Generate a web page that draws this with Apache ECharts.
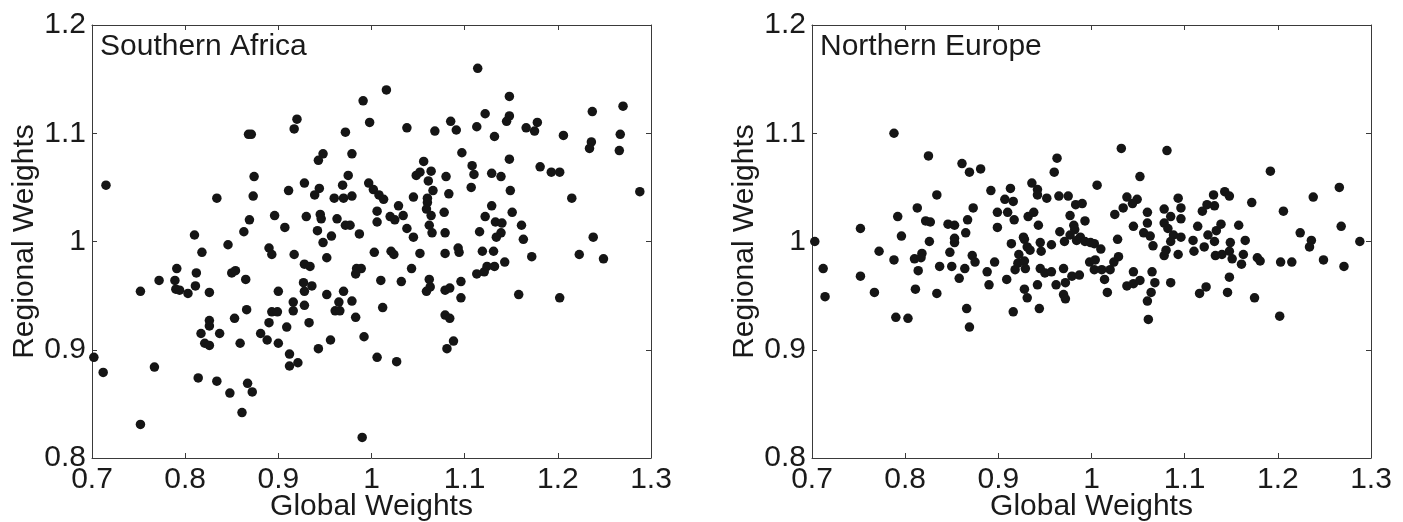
<!DOCTYPE html>
<html>
<head>
<meta charset="utf-8">
<script src="https://cdn.jsdelivr.net/npm/echarts@6/dist/echarts.min.js"></script>
<style>
html,body{margin:0;padding:0;background:#fff;}
#c{width:1403px;height:522px;}
</style>
</head>
<body>
<div id="c"></div>
<script>
const xTickLabels = ['0.7','0.8','0.9','1','1.1','1.2','1.3'];
const yTickLabels = ['0.8','0.9','1','1.1','1.2'];
const panelTitles = ['Southern Africa','Northern Europe'];
const xName = 'Global Weights';
const yName = 'Regional Weights';

const southernAfrica = [
[0.715,1.052],[1.016,1.140],[0.991,1.130],[0.998,1.110],[0.920,1.113],[0.917,1.104],[0.868,1.099],[0.871,1.099],
[0.972,1.101],[0.948,1.081],[0.943,1.075],[0.979,1.081],[0.874,1.060],[0.975,1.061],[0.928,1.054],[0.944,1.049],
[0.939,1.043],[0.911,1.047],[0.873,1.042],[0.834,1.040],[0.969,1.052],[0.960,1.040],[0.970,1.040],[0.979,1.042],
[0.997,1.054],[1.002,1.048],[1.008,1.043],[1.013,1.039],[1.006,1.028],[1.006,1.018],[0.896,1.024],[0.869,1.020],
[0.907,1.013],[0.930,1.023],[0.945,1.025],[0.946,1.021],[0.963,1.021],[0.972,1.015],[0.977,1.015],[0.987,1.007],
[0.942,1.010],[0.957,1.005],[0.863,1.009],[0.810,1.006],
[1.114,1.160],[1.148,1.134],[1.122,1.118],[1.148,1.116],[1.145,1.111],[1.085,1.111],[1.091,1.103],[1.113,1.106],
[1.132,1.097],[1.166,1.105],[1.178,1.110],[1.175,1.102],[1.206,1.098],[1.237,1.120],[1.270,1.125],[1.267,1.099],
[1.236,1.092],[1.234,1.086],[1.266,1.084],[1.038,1.105],[1.068,1.102],[1.097,1.082],[1.148,1.076],[1.056,1.074],
[1.048,1.061],[1.052,1.064],[1.064,1.065],[1.061,1.056],[1.080,1.060],[1.108,1.070],[1.110,1.062],[1.129,1.063],
[1.139,1.060],[1.181,1.069],[1.193,1.064],[1.202,1.064],[1.107,1.050],[1.149,1.047],[1.288,1.046],[1.215,1.040],
[1.066,1.047],[1.083,1.044],[1.045,1.041],[1.060,1.040],[1.060,1.036],[1.059,1.030],[1.064,1.024],[1.078,1.027],
[1.029,1.033],[1.020,1.023],[1.025,1.020],[1.034,1.024],[1.038,1.012],[1.045,1.004],[1.062,1.015],[1.065,1.008],
[1.079,1.008],[1.116,1.009],[1.129,1.033],[1.122,1.023],[1.133,1.018],[1.140,1.017],[1.151,1.027],[1.161,1.015],
[1.139,1.008],[1.134,1.004],[1.163,1.002],[1.238,1.004],
[0.846,0.997],[0.890,0.994],[0.893,0.988],[0.818,0.990],[0.917,0.988],[0.948,0.999],[0.952,0.985],[1.003,0.990],
[0.791,0.975],[0.772,0.964],[0.812,0.971],[0.789,0.964],[0.790,0.956],[0.794,0.955],[0.803,0.952],[0.811,0.959],
[0.752,0.954],[0.826,0.953],[0.850,0.971],[0.854,0.973],[0.865,0.965],[0.900,0.954],[0.928,0.979],[0.934,0.977],
[0.927,0.962],[0.936,0.959],[0.928,0.954],[0.952,0.951],[0.970,0.954],[0.984,0.975],[0.989,0.975],[0.983,0.970],
[1.010,0.964],[1.012,0.939],[0.979,0.945],[0.965,0.944],[0.961,0.936],[0.966,0.936],[0.983,0.930],[0.992,0.912],
[1.006,0.893],[0.990,0.819],[0.916,0.944],[0.916,0.936],[0.928,0.941],[0.893,0.935],[0.899,0.935],[0.890,0.925],
[0.909,0.921],[0.933,0.925],[0.881,0.915],[0.888,0.909],[0.900,0.906],[0.943,0.901],[0.956,0.909],[0.912,0.896],
[0.912,0.885],[0.921,0.888],[0.866,0.937],[0.853,0.929],[0.826,0.927],[0.826,0.922],[0.817,0.915],[0.837,0.915],
[0.821,0.906],[0.826,0.904],[0.859,0.906],[0.702,0.893],[0.712,0.879],[0.767,0.884],[0.814,0.874],[0.834,0.871],
[0.848,0.860],[0.867,0.869],[0.872,0.861],[0.861,0.842],[0.752,0.831],
[1.021,0.991],[1.024,0.988],[1.052,0.989],[1.079,0.989],[1.093,0.994],[1.094,0.990],[1.119,0.991],[1.131,0.991],
[1.172,0.986],[1.223,0.988],[1.249,0.984],[1.043,0.975],[1.032,0.963],[1.062,0.965],[1.063,0.958],[1.059,0.954],
[1.079,0.955],[1.084,0.957],[1.096,0.963],[1.096,0.948],[1.113,0.970],[1.121,0.972],[1.124,0.977],[1.132,0.977],
[1.143,0.981],[1.158,0.951],[1.202,0.948],[1.079,0.932],[1.084,0.929],[1.088,0.908],[1.081,0.901],[1.027,0.889]
];

const northernEurope = [
[0.788,1.100],[0.825,1.079],[0.861,1.072],[0.869,1.064],[0.881,1.067],[0.963,1.077],[0.960,1.064],[0.892,1.047],
[0.913,1.049],[0.936,1.054],[0.942,1.048],[0.942,1.043],[0.952,1.040],[0.965,1.042],[0.975,1.042],[0.983,1.034],
[0.990,1.035],[0.834,1.043],[0.907,1.039],[0.916,1.037],[0.813,1.031],[0.873,1.031],[0.792,1.023],[0.822,1.019],
[0.827,1.018],[0.752,1.012],[0.846,1.016],[0.853,1.015],[0.867,1.020],[0.865,1.008],[0.899,1.027],[0.910,1.027],
[0.917,1.020],[0.932,1.023],[0.938,1.027],[0.943,1.015],[0.899,1.013],[0.977,1.024],[0.981,1.015],[0.993,1.019],
[0.796,1.005],[0.927,1.004],[0.966,1.009],[0.977,1.006],[0.982,1.011],[0.988,1.004],[0.853,1.003],
[1.032,1.086],[1.081,1.084],[1.052,1.060],[1.192,1.065],[1.266,1.050],[1.006,1.052],[1.038,1.041],[1.049,1.039],
[1.044,1.035],[1.034,1.031],[1.025,1.025],[1.093,1.040],[1.096,1.031],[1.096,1.021],[1.078,1.030],[1.085,1.023],
[1.060,1.027],[1.119,1.028],[1.124,1.034],[1.132,1.033],[1.131,1.043],[1.143,1.046],[1.148,1.042],[1.172,1.036],
[1.206,1.028],[1.238,1.041],[1.268,1.014],[1.224,1.008],[1.045,1.014],[1.060,1.017],[1.056,1.008],[1.063,1.005],
[1.078,1.017],[1.082,1.012],[1.088,1.006],[1.096,1.004],[1.114,1.014],[1.125,1.006],[1.134,1.010],[1.139,1.016],
[1.158,1.015],[1.028,1.002],
[0.703,1.000],[0.826,1.000],[0.772,0.991],[0.788,0.983],[0.810,0.984],[0.818,0.989],[0.817,0.985],[0.814,0.973],
[0.837,0.977],[0.850,0.977],[0.848,0.990],[0.853,0.999],[0.864,0.975],[0.872,0.987],[0.875,0.981],[0.858,0.966],
[0.896,0.981],[0.888,0.972],[0.890,0.960],[0.712,0.975],[0.752,0.968],[0.714,0.949],[0.767,0.953],[0.811,0.956],
[0.834,0.952],[0.790,0.930],[0.803,0.929],[0.866,0.938],[0.869,0.921],[0.914,0.998],[0.928,1.002],[0.931,0.995],
[0.934,0.992],[0.922,0.988],[0.921,0.980],[0.918,0.974],[0.928,0.982],[0.929,0.975],[0.909,0.965],[0.928,0.956],
[0.931,0.948],[0.916,0.935],[0.942,0.960],[0.944,0.938],[0.945,0.999],[0.946,0.991],[0.957,0.997],[0.945,0.975],
[0.950,0.971],[0.957,0.972],[0.962,0.960],[0.970,0.975],[0.970,0.951],[0.972,0.947],[0.972,0.962],[0.979,0.968],
[0.987,0.969],[0.971,1.000],[0.984,1.001],[0.993,1.000],[0.999,0.999],[0.998,0.981],
[1.003,0.998],[1.010,0.993],[1.004,0.983],[1.003,0.974],[1.011,0.974],[1.020,0.974],[1.024,0.981],[1.029,0.986],
[1.014,0.965],[1.017,0.953],[1.045,0.972],[1.038,0.959],[1.045,0.961],[1.052,0.964],[1.065,0.972],[1.068,0.962],
[1.064,0.953],[1.060,0.945],[1.061,0.928],[1.085,0.962],[1.066,0.996],[1.078,0.987],[1.080,0.992],[1.085,1.000],
[1.093,0.988],[1.109,1.001],[1.110,0.991],[1.121,0.995],[1.132,1.000],[1.133,0.987],[1.140,0.988],[1.149,0.999],
[1.148,0.991],[1.151,0.984],[1.161,0.979],[1.163,0.988],[1.165,1.001],[1.148,0.967],[1.123,0.958],[1.116,0.952],
[1.146,0.953],[1.175,0.948],[1.178,0.985],[1.181,0.982],[1.202,0.931],[1.203,0.981],[1.215,0.981],[1.236,1.001],
[1.234,0.995],[1.249,0.983],[1.271,0.977],[1.288,1.000]
];

const FONT = '"Liberation Sans", Arial, Helvetica, sans-serif';
const FS = 30;
const TXT = '#1a1a1a';
const LINE = '#3a3a3a';
const DOT = '#151515';

const grids = [
  {left: 92, top: 25, width: 559, height: 433, containLabel: false, outerBoundsMode: 'none'},
  {left: 812, top: 25, width: 559, height: 433, containLabel: false, outerBoundsMode: 'none'}
];

function xFmt(v){ return xTickLabels[Math.round((v - 0.7) / 0.1)]; }
function yFmt(v){ return yTickLabels[Math.round((v - 0.8) / 0.1)]; }

const xAxes = [], yAxes = [], series = [];
[southernAfrica, northernEurope].forEach((data, i) => {
  xAxes.push({
    gridIndex: i, type: 'value', position: 'bottom', min: 0.7, max: 1.3, interval: 0.1,
    axisLine: {show: true, onZero: false, lineStyle: {color: LINE, width: 1}},
    axisTick: {show: true, inside: true, length: 5, lineStyle: {color: LINE}},
    axisLabel: {formatter: xFmt, color: TXT, fontFamily: FONT, fontSize: FS, margin: 7},
    splitLine: {show: false},
    name: xName, nameLocation: 'middle', nameGap: 34, nameMoveOverlap: false,
    nameTextStyle: {color: TXT, fontFamily: FONT, fontSize: FS}
  });
  xAxes.push({
    gridIndex: i, type: 'value', position: 'top', min: 0.7, max: 1.3, interval: 0.1,
    axisLine: {show: true, onZero: false, lineStyle: {color: LINE, width: 1}},
    axisTick: {show: true, inside: true, length: 5, lineStyle: {color: LINE}},
    axisLabel: {show: false}, splitLine: {show: false}
  });
  yAxes.push({
    gridIndex: i, type: 'value', position: 'left', min: 0.8, max: 1.2, interval: 0.1,
    axisLine: {show: true, onZero: false, lineStyle: {color: LINE, width: 1}},
    axisTick: {show: true, inside: true, length: 5, lineStyle: {color: LINE}},
    axisLabel: {formatter: yFmt, color: TXT, fontFamily: FONT, fontSize: FS, margin: 6},
    splitLine: {show: false},
    name: yName, nameLocation: 'middle', nameGap: 52, nameMoveOverlap: false,
    nameTextStyle: {color: TXT, fontFamily: FONT, fontSize: FS}
  });
  yAxes.push({
    gridIndex: i, type: 'value', position: 'right', min: 0.8, max: 1.2, interval: 0.1,
    axisLine: {show: true, onZero: false, lineStyle: {color: LINE, width: 1}},
    axisTick: {show: true, inside: true, length: 5, lineStyle: {color: LINE}},
    axisLabel: {show: false}, splitLine: {show: false}
  });
  series.push({
    type: 'scatter', xAxisIndex: i * 2, yAxisIndex: i * 2, data: data,
    symbol: 'circle', symbolSize: 9.5, itemStyle: {color: DOT, opacity: 1}, silent: true
  });
});

const chart = echarts.init(document.getElementById('c'), null, {renderer: 'canvas'});
chart.setOption({
  animation: false,
  backgroundColor: '#ffffff',
  title: panelTitles.map((t, i) => ({
    text: t, left: grids[i].left + 8, top: 32, padding: 0,
    textStyle: {color: TXT, fontFamily: FONT, fontSize: FS, fontWeight: 'normal'}
  })),
  grid: grids,
  xAxis: xAxes,
  yAxis: yAxes,
  series: series
});
</script>
</body>
</html>
